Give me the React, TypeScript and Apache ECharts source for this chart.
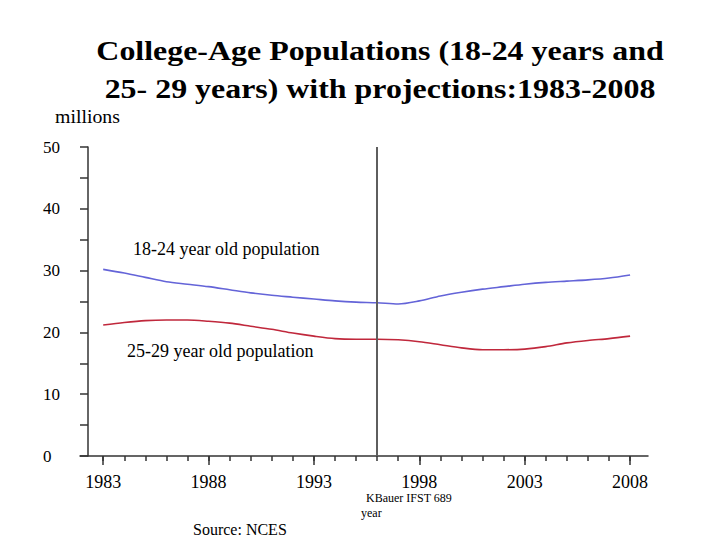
import React, { useEffect, useRef } from "react";
import * as echarts from "echarts";

const years = [1983,1984,1985,1986,1987,1988,1989,1990,1991,1992,1993,1994,1995,1996,1997,1998,1999,2000,2001,2002,2003,2004,2005,2006,2007,2008];
const pop18to24 = [30.2,29.6,28.9,28.2,27.8,27.4,26.9,26.4,26.0,25.7,25.4,25.1,24.9,24.8,24.6,25.1,25.9,26.5,27.0,27.4,27.8,28.1,28.3,28.5,28.8,29.3];
const pop25to29 = [21.2,21.6,21.9,22.0,22.0,21.8,21.5,21.0,20.5,19.9,19.4,19.0,18.9,18.9,18.8,18.5,18.0,17.5,17.2,17.2,17.3,17.7,18.3,18.7,19.0,19.4];
const majorYears = [1983,1988,1993,1998,2003,2008];
const projectionStart = 1996;

const SERIF = '"Liberation Serif", "Times New Roman", serif';

export default function App() {
  const ref = useRef<HTMLDivElement>(null);
  useEffect(() => {
    if (!ref.current) return;
    const chart = echarts.init(ref.current, null, { renderer: "svg" });
    const xCommon = {
      type: "value",
      min: 1981.9,
      max: 2008.85,
      position: "bottom",
      offset: 0,
      splitLine: { show: false },
    };
    chart.setOption({
      animation: false,
      backgroundColor: "#ffffff",
      grid: { left: 80, right: 72, top: 147, bottom: 84 },
      xAxis: [
        {
          ...xCommon,
          axisLine: { show: true, lineStyle: { color: "#333", width: 1.5 } },
          axisTick: { show: true, customValues: majorYears, length: 9, lineStyle: { color: "#333", width: 1.5 } },
          axisLabel: {
            customValues: majorYears,
            formatter: (v: number) => String(v),
            margin: 17,
            color: "#000",
            fontFamily: SERIF,
            fontSize: 18,
          },
        },
        {
          ...xCommon,
          axisLine: { show: false },
          axisTick: { show: true, customValues: years, length: 5, lineStyle: { color: "#333", width: 1.5 } },
          axisLabel: { show: false },
        },
      ],
      yAxis: {
        type: "value",
        min: 0,
        max: 50,
        interval: 10,
        offset: -8,
        splitLine: { show: false },
        axisLine: { show: true, lineStyle: { color: "#333", width: 1.5 } },
        axisTick: { show: true, length: 8, lineStyle: { color: "#333", width: 1.5 } },
        minorTick: { show: true, splitNumber: 2, length: 8, lineStyle: { color: "#333", width: 1.5 } },
        axisLabel: {
          align: "left",
          margin: 45,
          color: "#000",
          fontFamily: SERIF,
          fontSize: 17,
        },
      },
      series: [
        {
          name: "18-24 year old population",
          type: "line",
          data: years.map((y, i) => [y, pop18to24[i]]),
          showSymbol: false,
          smooth: 0.3,
          lineStyle: { color: "#6464d8", width: 1.6 },
          markLine: {
            silent: true,
            symbol: "none",
            label: { show: false },
            lineStyle: { color: "#5e5e5e", width: 2, type: "solid" },
            data: [{ xAxis: projectionStart }],
          },
        },
        {
          name: "25-29 year old population",
          type: "line",
          data: years.map((y, i) => [y, pop25to29[i]]),
          showSymbol: false,
          smooth: 0.3,
          lineStyle: { color: "#c0283c", width: 1.6 },
        },
      ],
      graphic: [
        {
          type: "text",
          x: 380,
          y: 31,
          scaleX: 1.14,
          style: {
            text: "College-Age Populations (18-24 years and\n25- 29 years) with projections:1983-2008",
            font: `bold 28px ${SERIF}`,
            fill: "#000",
            align: "center",
            lineHeight: 38,
          },
        },
        { type: "text", x: 55, y: 108, scaleX: 1.1, style: { text: "millions", font: `18px ${SERIF}`, fill: "#000" } },
        { type: "text", x: 133, y: 240, style: { text: "18-24 year old population", font: `18px ${SERIF}`, fill: "#000" } },
        { type: "text", x: 127, y: 342, style: { text: "25-29 year old population", font: `18px ${SERIF}`, fill: "#000" } },
        { type: "text", x: 366, y: 492, style: { text: "KBauer IFST 689", font: `12px ${SERIF}`, fill: "#000" } },
        { type: "text", x: 361, y: 507, style: { text: "year", font: `12px ${SERIF}`, fill: "#000" } },
        { type: "text", x: 193, y: 521, style: { text: "Source: NCES", font: `16px ${SERIF}`, fill: "#000" } },
      ],
    });
    return () => chart.dispose();
  }, []);
  return <div ref={ref} style={{ position: "fixed", left: 0, top: 0, width: 720, height: 540 }} />;
}
